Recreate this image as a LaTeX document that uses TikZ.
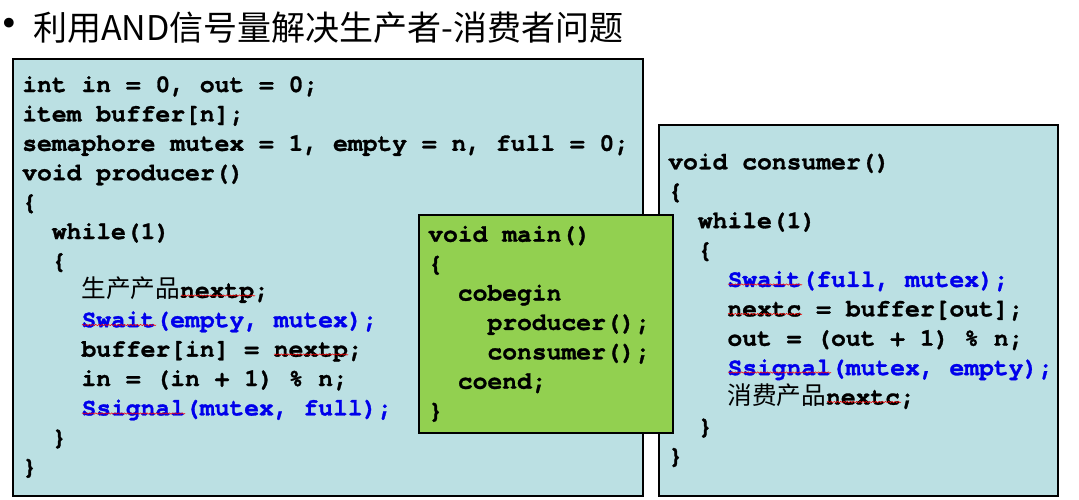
\documentclass[tikz,border=0pt]{standalone}
\usepackage{fontspec}
\setmonofont{TeX Gyre Cursor}[Ligatures=NoCommon, BoldFeatures={FakeBold=1.2}]
\newfontfamily\cjk{Noto Sans CJK SC}
\newfontfamily\dejavu{DejaVu Sans}
\usetikzlibrary{decorations.pathmorphing}
\definecolor{boxblue}{RGB}{187,224,227}
\definecolor{boxgreen}{RGB}{146,208,80}
\definecolor{codeblue}{RGB}{0,0,235}
\newcommand{\ind}{\hspace*{22.2pt}}
\newcommand{\sem}[1]{\textcolor{codeblue}{#1}}
\newcommand{\codefont}{\ttfamily\bfseries\fontsize{18.5pt}{22pt}\selectfont
  \fontdimen2\font=11.1pt\fontdimen3\font=0pt\fontdimen4\font=0pt}
\tikzset{
  codebox/.style={draw=black, line width=0.9pt},
  codeline/.style={anchor=base west, inner sep=0pt, font=\codefont},
  squiggle/.style={red, line width=0.4pt, decorate, decoration={snake, amplitude=0.5pt, segment length=2.4pt}}
}

\begin{document}
\begin{tikzpicture}[x=0.75pt,y=-0.75pt]
        \useasboundingbox (0,0) rectangle (1079,500);

        % draw title
        \node[font=\dejavu\fontsize{25pt}{28pt}\selectfont, inner sep=0pt, anchor=base] (bullet) at (9.5,35.5) {•};
        \node[anchor=base west, inner sep=0pt, font=\cjk\fontsize{25.5pt}{30pt}\selectfont] (title) at (33,40.5) {利用AND信号量解决生产者-消费者问题};

        % draw boxes
        \filldraw[codebox, fill=boxblue] (13,59) rectangle (643,496);
        \filldraw[codebox, fill=boxblue] (659,125) rectangle (1058,496);

        % draw producer lines
        \foreach \t [count=\i] in {{int in = 0, out = 0;}, {item buffer[n];},
            {semaphore mutex = 1, empty = n, full = 0;}, {void producer()}, {\{},
            {\ind while(1)}, {\ind\{}, {\ind\ind{\cjk\mdseries 生产产品}nextp;},
            {\ind\ind\sem{Swait(empty, mutex);}}, {\ind\ind buffer[in] = nextp;},
            {\ind\ind in = (in + 1) \% n;}, {\ind\ind\sem{Ssignal(mutex, full);}},
            {\ind\}}, {\}}}
          \node[codeline] (prod\i) at (22,{92+29.4*(\i-1)}) {\t};

        % draw consumer lines
        \foreach \t [count=\i] in {{void consumer()}, {\{}, {\ind while(1)}, {\ind\{},
            {\ind\ind\sem{Swait(full, mutex);}}, {\ind\ind nextc = buffer[out];},
            {\ind\ind out = (out + 1) \% n;}, {\ind\ind\sem{Ssignal(mutex, empty);}},
            {\ind\ind{\cjk\mdseries 消费产品}nextc;}, {\ind\}}, {\}}}
          \node[codeline] (cons\i) at (668,{169.3+29.4*(\i-1)}) {\t};

        % draw main box on top
        \filldraw[codebox, fill=boxgreen] (419,215) rectangle (673,433);
        \foreach \t [count=\i] in {{void main()}, {\{}, {\ind cobegin},
            {\ind\ind producer();}, {\ind\ind consumer();}, {\ind coend;}, {\}}}
          \node[codeline] (main\i) at (428,{241.7+29.4*(\i-1)}) {\t};

        % draw spelling marks
        \draw[squiggle] (181,295.5) -- (255,295.5);
        \draw[squiggle] (82,325) -- (156,325);
        \draw[squiggle] (274,354.5) -- (348,354.5);
        \draw[squiggle] (82,413.5) -- (185,413.5);
        \draw[squiggle] (728,284.5) -- (802,284.5);
        \draw[squiggle] (728,314) -- (802,314);
        \draw[squiggle] (728,372.5) -- (831,372.5);
        \draw[squiggle] (827,402) -- (901,402);
\end{tikzpicture}
\end{document}
